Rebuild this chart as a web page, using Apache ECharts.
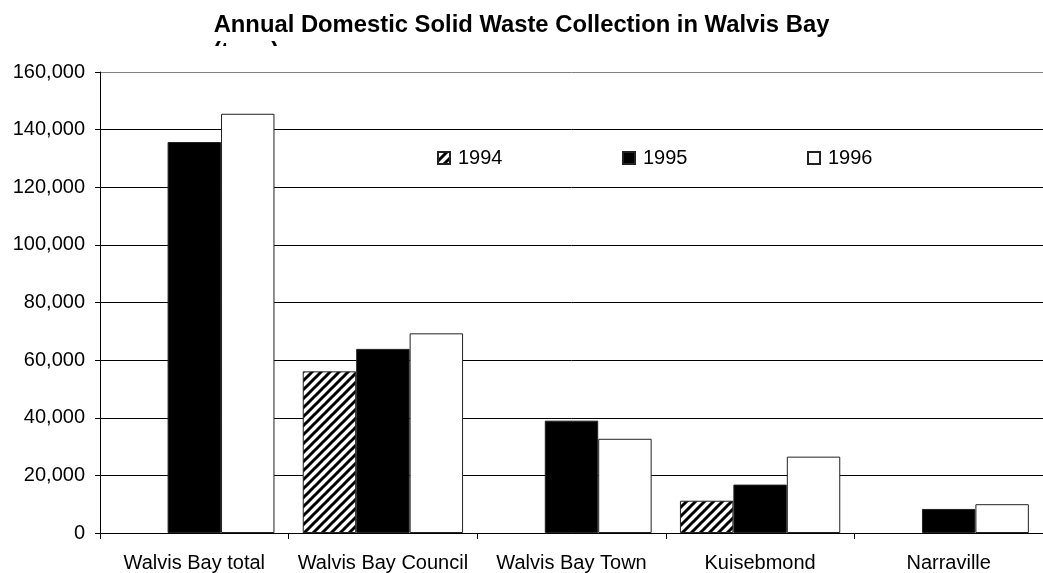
<!DOCTYPE html>
<html>
<head>
<meta charset="utf-8">
<script src="https://cdn.jsdelivr.net/npm/echarts@6/dist/echarts.min.js"></script>
<style>html,body{margin:0;padding:0;background:#fff}#c{width:1043px;height:573px}</style>
</head>
<body>
<div id="c"></div>
<script>
const categories = ['Walvis Bay total', 'Walvis Bay Council', 'Walvis Bay Town', 'Kuisebmond', 'Narraville'];
const years = ['1994', '1995', '1996'];
const values1994 = [null, 56100, null, 11200, null];
const values1995 = [135700, 63900, 39000, 16800, 8350];
const values1996 = [145500, 69300, 32700, 26500, 10000];
const yTicks = { min: 0, max: 160000, interval: 20000 };

function hatch() {
  const c = document.createElement('canvas');
  c.width = 9; c.height = 9;
  const g = c.getContext('2d');
  g.fillStyle = '#fff'; g.fillRect(0, 0, 9, 9);
  g.strokeStyle = '#000'; g.lineWidth = 3;
  g.beginPath();
  g.moveTo(-1, 10); g.lineTo(10, -1);
  g.moveTo(-2, 2); g.lineTo(2, -2);
  g.moveTo(7, 11); g.lineTo(11, 7);
  g.stroke();
  return c;
}

const FONT = '"Liberation Sans", Arial, sans-serif';
const chart = echarts.init(document.getElementById('c'), null, { renderer: 'canvas' });
const splitColors = ['#000', '#000', '#000', '#000', '#000', '#000', '#000', '#000', '#808080'];
const legendPos = [437, 622, 807];
const fills = [{ image: hatch(), repeat: 'repeat' }, '#000', '#fff'];
const dataSets = [values1994, values1995, values1996];

chart.setOption({
  animation: false,
  backgroundColor: '#fff',
  title: {
    text: 'Annual Domestic Solid Waste Collection in Walvis Bay',
    left: 'center', top: 8,
    textStyle: { fontFamily: FONT, fontSize: 23.8, fontWeight: 'bold', color: '#000' }
  },
  graphic: [
    { type: 'text', left: 213, top: 40, z: 10, style: { text: '(tons)', font: 'bold 23.8px "Liberation Sans"', fill: '#000' } },
    { type: 'rect', left: 200, top: 46, z: 11, shape: { width: 200, height: 25 }, style: { fill: '#fff' } }
  ],
  legend: years.map((y, i) => ({
    data: [y], left: legendPos[i], top: 148, padding: 0, itemWidth: 12, itemHeight: 12, itemGap: 5,
    icon: 'rect', textStyle: { fontFamily: FONT, fontSize: 20, color: '#000', padding: [0, 0, 0, 3] }
  })),
  grid: { left: 100, right: -7, top: 72, bottom: 40, containLabel: false },
  xAxis: {
    type: 'category', data: categories,
    axisLine: { lineStyle: { color: '#000', width: 1 } },
    axisTick: { show: true, interval: 0, length: 6, lineStyle: { color: '#000' } },
    axisLabel: { interval: 0, fontFamily: FONT, fontSize: 20, color: '#000', margin: 20 }
  },
  yAxis: {
    type: 'value', min: yTicks.min, max: yTicks.max, interval: yTicks.interval,
    axisLine: { show: true, lineStyle: { color: '#000' } },
    axisTick: { show: true, length: 5, lineStyle: { color: '#000' } },
    splitLine: { show: true, lineStyle: { color: splitColors, width: 1 } },
    axisLabel: {
      fontFamily: FONT, fontSize: 20, color: '#000', margin: 15,
      formatter: v => v.toLocaleString('en-US')
    }
  },
  series: years.map((y, i) => ({
    name: y, type: 'bar', data: dataSets[i],
    barGap: '0%', barCategoryGap: '15%',
    itemStyle: { color: fills[i], borderColor: '#222', borderWidth: 1 }
  }))
});
</script>
</body>
</html>
